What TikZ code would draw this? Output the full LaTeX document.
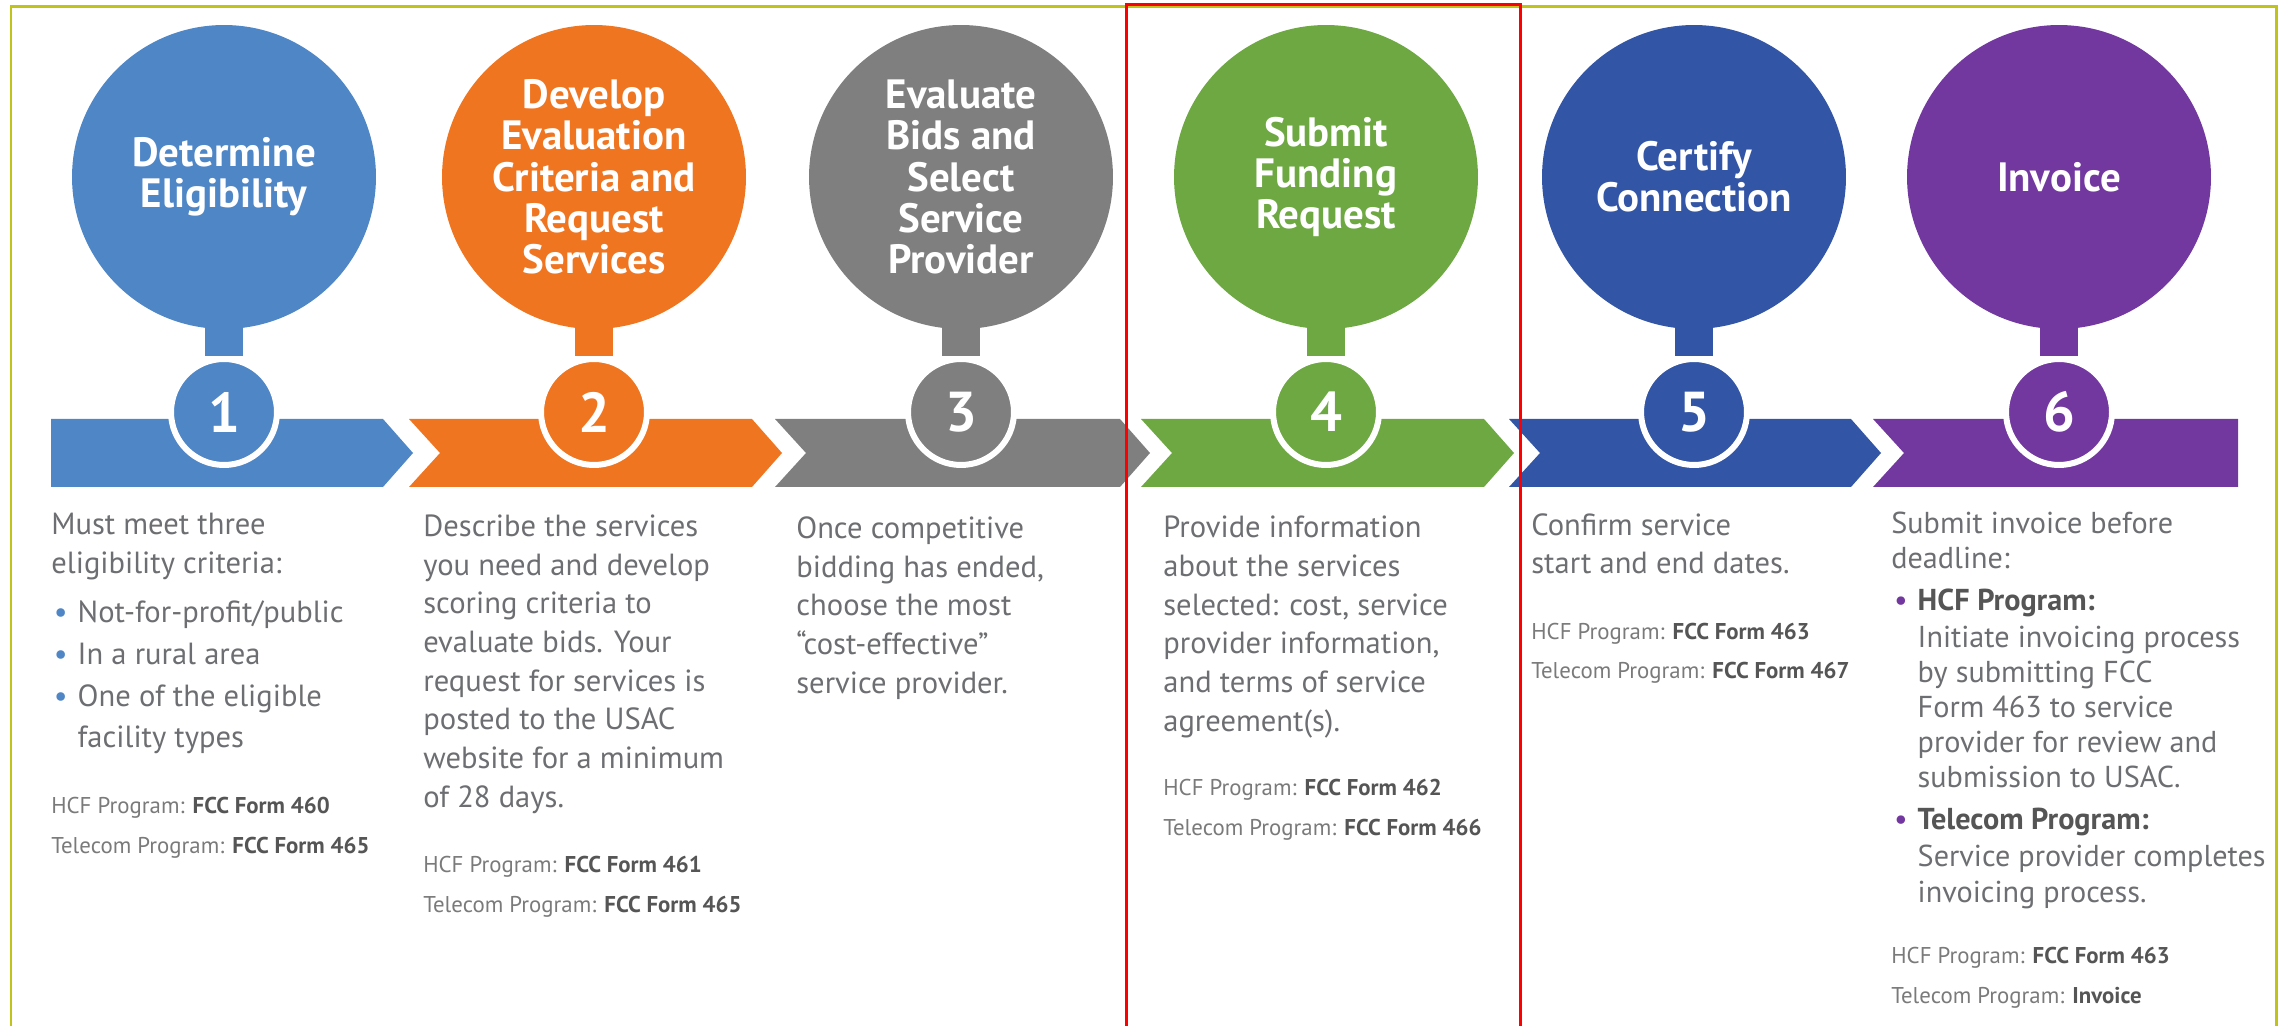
\documentclass[tikz,border=0pt]{standalone}
\usepackage{fontspec}
\setmainfont{PT Sans}
\usetikzlibrary{positioning}

\definecolor{cblue}{HTML}{4F86C6}
\definecolor{corange}{HTML}{F07521}
\definecolor{cgrey}{HTML}{7F7F7F}
\definecolor{cgreen}{HTML}{6EA843}
\definecolor{cnavy}{HTML}{3355A5}
\definecolor{cpurple}{HTML}{7338A0}
\definecolor{bodygrey}{HTML}{6D6E71}
\definecolor{formgrey}{HTML}{7A7A7A}
\definecolor{formdark}{HTML}{555555}
\definecolor{frameolive}{HTML}{C0C41A}

\newcommand{\stepbullet}[1]{\makebox[15pt][l]{\hspace{1.5pt}\textcolor{#1}{\textbullet}}}
\newcommand{\bulletgap}{\hspace*{15pt}}
\newcommand{\formname}[1]{\textcolor{formdark}{\bfseries #1}}

\begin{document}
\begin{tikzpicture}[
  x=0.02cm, y=-0.02cm,
  bigcircle/.style={circle, minimum size=6.08cm, inner sep=0pt, align=center, text=white, font=\bfseries\fontsize{23.3}{23.5}\selectfont},
  numcircle/.style={circle, draw=white, line width=0.12cm, minimum size=2.12cm, inner sep=0pt, text=white, font=\bfseries\fontsize{32}{32}\selectfont},
  stem/.style={line width=0.76cm, shorten <=-0.1cm},
  desc/.style={anchor=base west, inner sep=0pt, align=left, text=bodygrey, font=\fontsize{17.4}{22}\selectfont},
  form/.style={anchor=base west, inner sep=0pt, align=left, text=formgrey, font=\fontsize{13}{22.2}\selectfont}
]
\useasboundingbox (0,0) rectangle (2285,1026);

% chevron band
\fill[cblue] (51,419) -- (383,419) -- (413,453) -- (383,487) -- (51,487) -- cycle;
\fill[corange] (409,419) -- (752,419) -- (782,453) -- (752,487) -- (409,487) -- (440,453) -- cycle;
\fill[cgrey] (775,419) -- (1120,419) -- (1150,453) -- (1120,487) -- (775,487) -- (806,453) -- cycle;
\fill[cgreen] (1141,419) -- (1484,419) -- (1514,453) -- (1484,487) -- (1141,487) -- (1172,453) -- cycle;
\fill[cnavy] (1509,419) -- (1851,419) -- (1881,453) -- (1851,487) -- (1509,487) -- (1540,453) -- cycle;
\fill[cpurple] (1873,419) -- (2238,419) -- (2238,487) -- (1873,487) -- (1904,453) -- cycle;

% steps
\node[bigcircle, fill=cblue] (elig) at (224,177) {Determine\\Eligibility};
\node[bigcircle, fill=corange] (crit) at (594,177) {Develop\\Evaluation\\Criteria and\\Request\\Services};
\node[bigcircle, fill=cgrey] (bids) at (961,177) {Evaluate\\Bids and\\Select\\Service\\Provider};
\node[bigcircle, fill=cgreen] (fund) at (1326,177) {Submit\\Funding\\Request};
\node[bigcircle, fill=cnavy] (cert) at (1694,177) {Certify\\Connection};
\node[bigcircle, fill=cpurple] (inv) at (2059,177) {Invoice};

\node[numcircle, fill=cblue] (num1) at (224,412) {1};
\node[numcircle, fill=corange] (num2) at (594,412) {2};
\node[numcircle, fill=cgrey] (num3) at (961,412) {3};
\node[numcircle, fill=cgreen] (num4) at (1326,412) {4};
\node[numcircle, fill=cnavy] (num5) at (1694,412) {5};
\node[numcircle, fill=cpurple] (num6) at (2059,412) {6};

\draw[stem, cblue] (elig.south) -- (num1.north);
\draw[stem, corange] (crit.south) -- (num2.north);
\draw[stem, cgrey] (bids.south) -- (num3.north);
\draw[stem, cgreen] (fund.south) -- (num4.north);
\draw[stem, cnavy] (cert.south) -- (num5.north);
\draw[stem, cpurple] (inv.south) -- (num6.north);

% descriptions (placed at the baseline of their last line)
\node[desc] (desc1) at (51,747) {Must meet three\\eligibility criteria:\\[6pt]
  \stepbullet{cblue}Not-for-profit/public\\[2pt]
  \stepbullet{cblue}In a rural area\\[2pt]
  \stepbullet{cblue}One of the eligible\\[1pt]
  \bulletgap facility types};
\node[desc] (desc2) at (423,807) {Describe the services\\you need and develop\\scoring criteria to\\evaluate bids. Your\\request for services is\\posted to the USAC\\website for a minimum\\of 28 days.};
\node[desc] (desc3) at (796,693) {Once competitive\\bidding has ended,\\choose the most\\“cost-effective”\\service provider.};
\node[desc] (desc4) at (1163,731) {Provide information\\about the services\\selected: cost, service\\provider information,\\and terms of service\\agreement(s).};
\node[desc] (desc5) at (1531,574) {Confirm service\\start and end dates.};
\node[desc, font=\fontsize{17.2}{20}\selectfont] (desc6) at (1891,902) {Submit invoice before\\deadline:\\[4pt]
  \stepbullet{cpurple}\textcolor{formdark}{\bfseries HCF Program:}\\[1pt]
  \bulletgap Initiate invoicing process\\
  \bulletgap by submitting FCC\\
  \bulletgap Form 463 to service\\
  \bulletgap provider for review and\\
  \bulletgap submission to USAC.\\[4pt]
  \stepbullet{cpurple}\textcolor{formdark}{\bfseries Telecom Program:}\\[1pt]
  \bulletgap Service provider completes\\
  \bulletgap invoicing process.};

% forms
\node[form] (form1) at (51,853) {HCF Program: \formname{FCC Form 460}\\Telecom Program: \formname{FCC Form 465}};
\node[form] (form2) at (423,912) {HCF Program: \formname{FCC Form 461}\\Telecom Program: \formname{FCC Form 465}};
\node[form] (form4) at (1163,835) {HCF Program: \formname{FCC Form 462}\\Telecom Program: \formname{FCC Form 466}};
\node[form] (form5) at (1531,679) {HCF Program: \formname{FCC Form 463}\\Telecom Program: \formname{FCC Form 467}};
\node[form] (form6) at (1891,1003) {HCF Program: \formname{FCC Form 463}\\Telecom Program: \formname{Invoice}};

% frames
\draw[frameolive, line width=0.06cm] (11,1030) -- (11,7) -- (2276,7) -- (2276,1030);
\draw[red, line width=0.06cm] (1126,1030) -- (1126,5) -- (1520,5) -- (1520,1030);
\end{tikzpicture}
\end{document}
